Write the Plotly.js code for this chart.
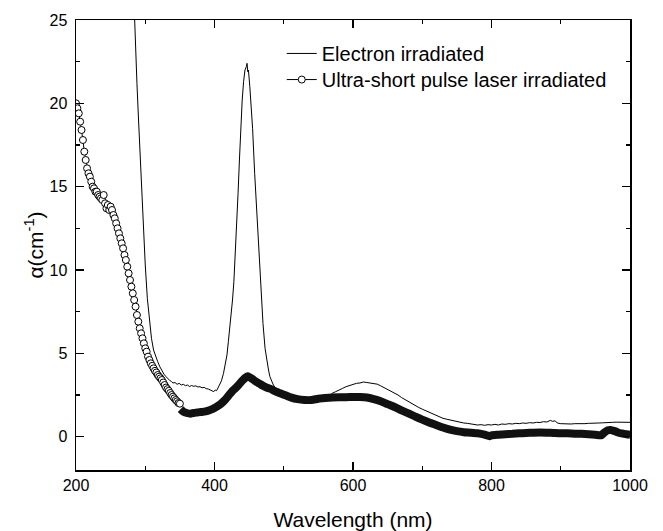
<!DOCTYPE html>
<html>
<head>
<meta charset="utf-8">
<script src="https://cdn.plot.ly/plotly-3.0.1.min.js"></script>
<style>
  html, body { margin: 0; padding: 0; background: #fff; }
  #chart { width: 663px; height: 531px; }
</style>
</head>
<body>
<div id="chart"></div>
<script>
// Electron irradiated (thin line)
const electronWl = [
  283, 285, 288, 290, 293, 295, 298, 300, 303, 306, 309, 312, 315, 318, 321, 324, 327, 330,
  333, 336, 338, 340, 343, 346, 349, 352, 355, 358, 361, 364, 367, 370, 373, 376, 379, 382,
  385, 388, 391, 394, 397, 399, 401, 403, 405, 408, 410, 413, 416, 418, 420, 423, 426, 428,
  430, 432, 434, 436, 438, 440, 442, 444, 446, 447, 448, 449, 451, 453, 455, 458, 460, 463,
  465, 468, 470, 473, 475, 478, 480, 485, 490, 495, 500, 505, 510, 515, 520, 525, 530, 535,
  540, 545, 550, 555, 560, 565, 570, 575, 580, 585, 590, 595, 600, 605, 610, 615, 620, 625,
  630, 635, 640, 645, 650, 655, 660, 665, 670, 675, 680, 685, 690, 695, 700, 705, 710, 715,
  720, 725, 730, 735, 740, 745, 750, 755, 760, 765, 770, 775, 780, 785, 790, 795, 800, 805,
  810, 815, 820, 825, 830, 835, 840, 845, 850, 855, 860, 865, 870, 875, 880, 885, 888, 892,
  895, 900, 905, 910, 915, 920, 925, 930, 935, 940, 945, 950, 955, 960, 965, 970, 975, 980,
  985, 990, 995, 1000
];
const electronAlpha = [
  27.0, 24.3, 21.2, 19.3, 16.3, 14.4, 12.0, 10.3, 8.3, 6.9, 5.9, 5.2, 4.8, 4.5, 4.2, 3.95, 3.75, 3.6,
  3.45, 3.35, 3.3, 3.22, 3.25, 3.14, 3.2, 3.1, 3.14, 3.06, 3.1, 3.01, 3.07, 3.02, 3.05, 2.98, 3.0, 2.93,
  2.96, 2.88, 2.86, 2.8, 2.76, 2.7, 2.8, 2.76, 2.92, 3.2, 3.35, 3.8, 4.4, 4.9, 5.7, 6.8, 8.2, 9.3,
  10.8, 12.6, 14.6, 16.6, 18.6, 20.2, 21.3, 22.0, 22.2, 22.4, 21.9, 22.0, 21.0, 19.8, 18.5, 15.8, 14.2, 11.8,
  10.3, 8.2, 6.8, 5.3, 4.7, 4.0, 3.6, 3.1, 2.8, 2.62, 2.5, 2.42, 2.35, 2.3, 2.25, 2.22, 2.2, 2.18,
  2.22, 2.25, 2.3, 2.32, 2.35, 2.42, 2.6, 2.7, 2.82, 2.9, 3.0, 3.08, 3.15, 3.2, 3.22, 3.28, 3.25, 3.22,
  3.2, 3.15, 3.05, 2.95, 2.85, 2.75, 2.62, 2.5, 2.35, 2.22, 2.1, 1.98, 1.85, 1.75, 1.65, 1.55, 1.45, 1.35,
  1.25, 1.18, 1.1, 1.05, 1.0, 0.95, 0.9, 0.86, 0.82, 0.8, 0.76, 0.72, 0.7, 0.72, 0.68, 0.72, 0.7, 0.74,
  0.7, 0.76, 0.74, 0.78, 0.76, 0.8, 0.78, 0.82, 0.8, 0.84, 0.82, 0.86, 0.85, 0.9, 0.88, 0.98, 0.92, 0.95,
  0.82, 0.78, 0.76, 0.78, 0.76, 0.78, 0.77, 0.8, 0.78, 0.8, 0.82, 0.8, 0.82, 0.83, 0.85, 0.88, 0.86, 0.87,
  0.86, 0.86, 0.86, 0.86
];

// Ultra-short pulse laser irradiated (open circles)
const laserWl = [
  200, 202, 204, 206, 208, 210, 212, 214, 216, 218, 220, 222, 224, 226, 228, 230, 232, 234,
  236, 238, 240, 242, 244, 246, 248, 250, 252, 254, 256, 258, 260, 262, 264, 266, 268, 270,
  272, 274, 276, 278, 280, 282, 284, 286, 288, 290, 292, 294, 296, 298, 300, 302, 304, 306,
  308, 310, 312, 314, 316, 318, 320, 322, 324, 326, 328, 330, 332, 334, 336, 338, 340, 342,
  344, 346, 348, 350,
  351, 355, 360, 365, 370, 375, 380, 385, 390, 395, 400, 405, 410, 415, 420, 425, 430, 435,
  440, 445, 448, 450, 455, 460, 465, 470, 475, 480, 485, 490, 495, 500, 505, 510, 520, 530,
  540, 550, 560, 570, 580, 590, 600, 610, 620, 630, 640, 650, 660, 670, 680, 690, 700, 710,
  720, 730, 740, 750, 760, 770, 780, 790, 797, 800, 810, 820, 830, 840, 850, 860, 870, 880,
  890, 900, 910, 920, 930, 940, 950, 958, 963, 968, 972, 978, 985, 990, 995, 1000
];
const laserAlpha = [
  20.0, 19.7, 19.4, 18.9, 18.4, 17.8, 17.1, 16.6, 16.1, 15.8, 15.6, 15.3, 15.0, 14.9, 14.7, 14.7, 14.5, 14.4,
  14.3, 14.2, 14.5, 14.0, 13.7, 13.9, 13.6, 13.8, 13.6, 13.3, 13.1, 12.8, 12.5, 12.2, 11.9, 11.6, 11.3, 10.9,
  10.6, 10.2, 9.8, 9.4, 9.0, 8.6, 8.2, 7.8, 7.3, 6.9, 6.5, 6.2, 5.9, 5.6, 5.3, 5.1, 4.8, 4.6,
  4.4, 4.25, 4.1, 3.95, 3.85, 3.7, 3.6, 3.5, 3.4, 3.25, 3.1, 2.95, 2.85, 2.75, 2.62, 2.5, 2.4, 2.3,
  2.2, 2.12, 2.02, 1.98,
  1.65, 1.5, 1.42, 1.38, 1.42, 1.45, 1.48, 1.5, 1.55, 1.62, 1.72, 1.85, 2.0, 2.2, 2.45, 2.7, 2.9, 3.12,
  3.35, 3.55, 3.62, 3.58, 3.45, 3.3, 3.18, 3.05, 2.95, 2.88, 2.78, 2.68, 2.6, 2.52, 2.44, 2.36, 2.25, 2.2,
  2.2, 2.28, 2.32, 2.35, 2.37, 2.37, 2.38, 2.38, 2.35, 2.25, 2.12, 1.95, 1.78, 1.58, 1.4, 1.2, 1.02, 0.85,
  0.7, 0.55, 0.42, 0.33, 0.27, 0.24, 0.2, 0.12, 0.03, 0.08, 0.12, 0.15, 0.17, 0.2, 0.22, 0.24, 0.25, 0.24,
  0.22, 0.2, 0.2, 0.18, 0.17, 0.15, 0.12, 0.08, 0.25, 0.38, 0.4, 0.33, 0.22, 0.18, 0.14, 0.12
];

const xTickVals = [200, 400, 600, 800, 1000];
const xTickText = ['200', '400', '600', '800', '1000'];
const yTickVals = [0, 5, 10, 15, 20, 25];
const yTickText = ['0', '5', '10', '15', '20', '25'];

// split laser series: sparse open circles (steep part) and dense band
const sparseX = [], sparseY = [], denseX = [], denseY = [];
laserWl.forEach((w, i) => {
  if (w <= 350) { sparseX.push(w); sparseY.push(laserAlpha[i]); }
  else { denseX.push(w); denseY.push(laserAlpha[i]); }
});

const FONT = 'Liberation Sans, Arial, Helvetica, sans-serif';

const traces = [
  {
    x: electronWl, y: electronAlpha, type: 'scatter', mode: 'lines',
    name: 'Electron irradiated', legend: 'legend',
    line: { color: '#000', width: 1 }
  },
  {
    x: denseX, y: denseY, type: 'scatter', mode: 'lines',
    name: 'Ultra-short pulse laser irradiated', showlegend: false,
    line: { color: '#111', width: 8, shape: 'spline', smoothing: 0.6 }
  },
  {
    x: sparseX, y: sparseY, type: 'scatter', mode: 'lines+markers',
    name: 'Ultra-short pulse laser irradiated', legend: 'legend2',
    line: { color: '#000', width: 1 },
    marker: { symbol: 'circle', size: 7, color: '#fff', line: { color: '#000', width: 1 } }
  }
];

const axisCommon = {
  showline: true, linecolor: '#000', linewidth: 1.5, mirror: 'ticks',
  ticks: 'inside', ticklen: 8, tickwidth: 1.2, tickcolor: '#000',
  showgrid: false, zeroline: false,
  tickfont: { family: FONT, size: 16, color: '#000' }
};

const legendCommon = {
  xanchor: 'left', yanchor: 'top',
  bgcolor: 'rgba(0,0,0,0)', borderwidth: 0,
  font: { family: FONT, size: 20, color: '#000' }
};

const layout = {
  width: 663, height: 531,
  margin: { l: 76, r: 33, t: 20, b: 61 },
  paper_bgcolor: '#fff', plot_bgcolor: '#fff',
  showlegend: true,
  legend: Object.assign({}, legendCommon, { x: 0.3714, y: 0.969 }),
  legend2: Object.assign({}, legendCommon, { x: 0.3714, y: 0.911 }),
  xaxis: Object.assign({}, axisCommon, {
    range: [200, 1000],
    tickmode: 'array', tickvals: xTickVals, ticktext: xTickText,
    ticklabelstandoff: 0,
    minor: { dtick: 100, tick0: 200, ticks: 'inside', ticklen: 4, tickwidth: 1.2, tickcolor: '#000', showgrid: false },
    title: { text: 'Wavelength (nm)', font: { family: FONT, size: 21, color: '#000' }, standoff: 20 }
  }),
  yaxis: Object.assign({}, axisCommon, {
    range: [-2, 25],
    tickmode: 'array', tickvals: yTickVals, ticktext: yTickText,
    ticklabelstandoff: 4,
    minor: { dtick: 2.5, tick0: 0, ticks: 'inside', ticklen: 4, tickwidth: 1.2, tickcolor: '#000', showgrid: false },
    title: { text: 'α(cm<sup>-1</sup>)', font: { family: FONT, size: 21, color: '#000' }, standoff: 0 }
  })
};

Plotly.newPlot('chart', traces, layout, { displayModeBar: false, staticPlot: true });
</script>
</body>
</html>
